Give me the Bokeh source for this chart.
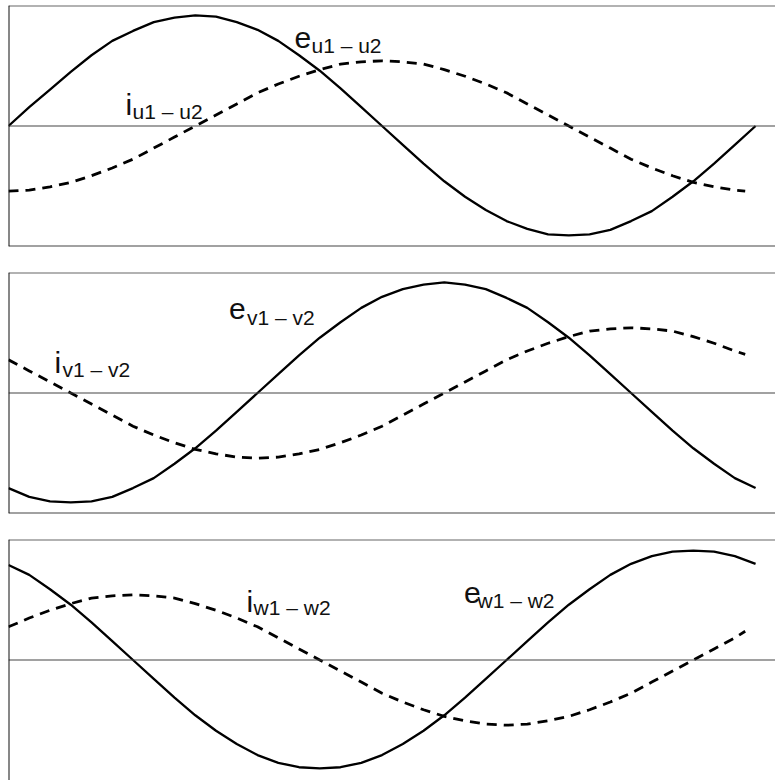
from bokeh.plotting import figure
from bokeh.layouts import column
from bokeh.models import Range1d, Span, Label
from bokeh.embed import file_html
from bokeh.resources import INLINE

# Electrical angle in degrees: voltage traces span a full period,
# current traces stop a little short of it.
angle_e = list(range(0, 361, 10))
angle_i = list(range(0, 351, 10)) + [355]

# Phase-to-phase voltages (normalised to the peak)
e_u = [0.00, 0.17, 0.33, 0.49, 0.64, 0.77, 0.86, 0.94, 0.98, 1.00, 0.99, 0.94,
       0.87, 0.77, 0.64, 0.50, 0.34, 0.17, 0.00, -0.17, -0.34, -0.50, -0.64, -0.76,
       -0.86, -0.93, -0.98, -0.99, -0.98, -0.94, -0.86, -0.77, -0.64, -0.50, -0.34,
       -0.17, 0.00]
e_v = [-0.86, -0.94, -0.98, -0.99, -0.98, -0.94, -0.86, -0.77, -0.64, -0.50, -0.34,
       -0.17, 0.00, 0.17, 0.34, 0.50, 0.64, 0.77, 0.87, 0.94, 0.98, 1.00, 0.98, 0.94,
       0.86, 0.77, 0.64, 0.50, 0.34, 0.17, 0.00, -0.17, -0.34, -0.50, -0.64, -0.77,
       -0.86]
e_w = [0.86, 0.77, 0.64, 0.50, 0.34, 0.17, 0.00, -0.17, -0.34, -0.50, -0.64, -0.76,
       -0.86, -0.93, -0.97, -0.98, -0.97, -0.93, -0.86, -0.76, -0.64, -0.50, -0.34,
       -0.17, 0.00, 0.17, 0.34, 0.50, 0.64, 0.77, 0.87, 0.94, 0.98, 0.99, 0.98, 0.94,
       0.87]

# Phase currents (same scale), lagging their voltages
i_u = [-0.59, -0.58, -0.55, -0.51, -0.45, -0.38, -0.30, -0.20, -0.10, 0.00, 0.10,
       0.20, 0.30, 0.38, 0.45, 0.51, 0.56, 0.58, 0.59, 0.58, 0.56, 0.51, 0.45, 0.38,
       0.30, 0.20, 0.10, 0.00, -0.10, -0.20, -0.30, -0.38, -0.45, -0.51, -0.55, -0.58,
       -0.59]
i_v = [0.30, 0.20, 0.10, 0.00, -0.10, -0.20, -0.30, -0.38, -0.45, -0.51, -0.55,
       -0.58, -0.59, -0.58, -0.55, -0.51, -0.45, -0.38, -0.30, -0.20, -0.10, 0.00,
       0.10, 0.20, 0.30, 0.38, 0.45, 0.51, 0.56, 0.58, 0.59, 0.58, 0.56, 0.51, 0.45,
       0.38, 0.35]
i_w = [0.30, 0.38, 0.45, 0.51, 0.56, 0.58, 0.59, 0.58, 0.56, 0.51, 0.45, 0.38,
       0.30, 0.20, 0.10, 0.00, -0.10, -0.20, -0.30, -0.38, -0.45, -0.51, -0.55,
       -0.58, -0.59, -0.58, -0.55, -0.51, -0.45, -0.38, -0.30, -0.20, -0.10, 0.00,
       0.10, 0.20, 0.26]

# Label texts: main letter and its subscript
labels_u = [("e", "u1 \u2013 u2"), ("i", "u1 \u2013 u2")]
labels_v = [("e", "v1 \u2013 v2"), ("i", "v1 \u2013 v2")]
labels_w = [("e", "w1 \u2013 w2"), ("i", "w1 \u2013 w2")]

FONT = "Liberation Sans"
X_RANGE = (0, 369.6)
Y_LIM = 1.09


def panel(e_vals, i_vals, texts, anchors, top, bottom, draw_bottom=True):
    frame_h = 241
    p = figure(width=775, height=top + frame_h + bottom,
               x_range=Range1d(*X_RANGE), y_range=Range1d(-Y_LIM, Y_LIM),
               x_axis_location=None, y_axis_location=None,
               toolbar_location=None, title=None, output_backend="svg",
               min_border_left=8, min_border_right=0,
               min_border_top=top, min_border_bottom=bottom,
               outline_line_color=None, background_fill_color="white",
               border_fill_color="white")
    p.xgrid.visible = False
    p.ygrid.visible = False

    # zero reference line
    p.add_layout(Span(location=0, dimension="width", line_color="#444444",
                      line_width=1.2))
    # panel frame (open on the right)
    p.add_layout(Span(location=Y_LIM, dimension="width", line_color="#666666",
                      line_width=1.8))
    if draw_bottom:
        p.add_layout(Span(location=-Y_LIM, dimension="width", line_color="#444444",
                          line_width=1.8))
    p.add_layout(Span(location=X_RANGE[0], dimension="height", line_color="#111111",
                      line_width=2))

    p.line(angle_i, i_vals, line_color="black", line_width=2.8, line_dash="10 7")
    p.line(angle_e, e_vals, line_color="black", line_width=2.3)

    for (main, sub), (mx, my, sx, sy) in zip(texts, anchors):
        p.add_layout(Label(x=mx, y=my, text=main, text_font=FONT,
                           text_font_size="30px", text_color="#111111",
                           text_baseline="alphabetic", text_align="left"))
        p.add_layout(Label(x=sx, y=sy, text=sub, text_font=FONT,
                           text_font_size="21px", text_color="#111111",
                           text_baseline="alphabetic", text_align="left"))
    return p


p1 = panel(e_u, i_u, labels_u,
           [(137.8, 0.796, 146.0, 0.732), (56.4, 0.19, 59.8, 0.127)],
           top=5, bottom=14)
p2 = panel(e_v, i_v, labels_v,
           [(106.3, 0.759, 114.9, 0.687), (22.2, 0.280, 26.0, 0.217)],
           top=12, bottom=7)
p3 = panel(e_w, i_w, labels_w,
           [(219.5, 0.606, 226.0, 0.542), (114.7, 0.533, 118.1, 0.479)],
           top=19, bottom=0, draw_bottom=False)

layout = column(p1, p2, p3, spacing=0)

with open("out.html", "w") as f:
    f.write(file_html(layout, INLINE))
